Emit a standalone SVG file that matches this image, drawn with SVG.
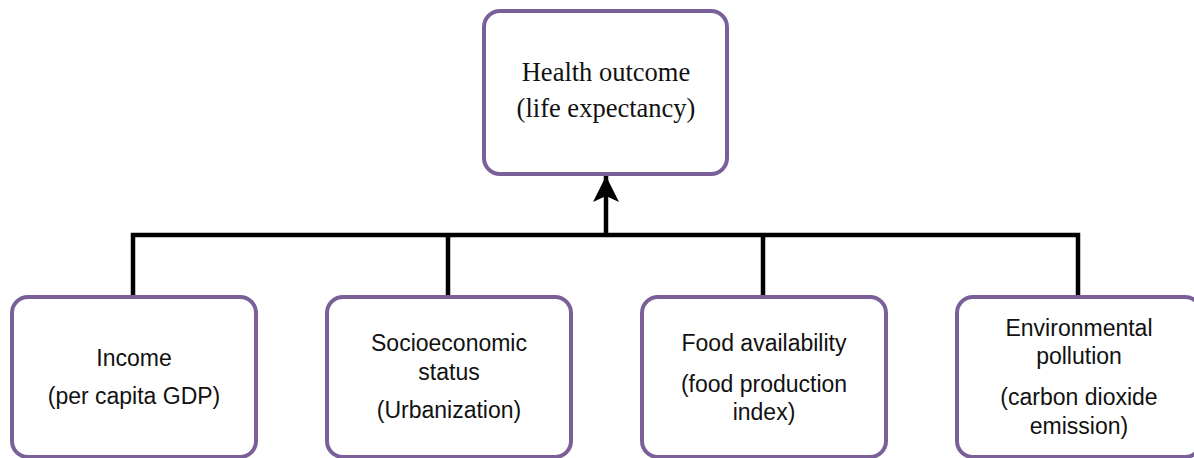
<svg xmlns="http://www.w3.org/2000/svg" width="1194" height="458" viewBox="0 0 1194 458">
<style>
.box{fill:#fff;stroke:#7a5f99;stroke-width:4}
.ser{font-family:"Liberation Serif","Times New Roman",serif;font-size:26.5px;fill:#111;text-anchor:middle}
.san{font-family:"Liberation Sans",Arial,sans-serif;font-size:23px;fill:#111;text-anchor:middle}
.ln{stroke:#000;stroke-width:4.5;fill:none}
</style>
<defs>
<marker id="ah" markerUnits="userSpaceOnUse" markerWidth="30" markerHeight="30" viewBox="0 0 30 30" refX="26" refY="15" orient="auto">
<path d="M0,2 L26,15 L0,28 L6,15 Z" fill="#000"/>
</marker>
</defs>
<rect width="1194" height="458" fill="#fff"/>
<g id="connectors">
<path class="ln" d="M133,296 V235 H1078 V296 M448,235 V296 M763,235 V296"/>
<path class="ln" d="M606,236 V176" marker-end="url(#ah)"/>
</g>
<g id="health">
<rect class="box" x="484" y="11" width="243" height="163" rx="16"/>
<text class="ser" x="606" y="81">Health outcome</text>
<text class="ser" x="606" y="117">(life expectancy)</text>
</g>
<g id="income">
<rect class="box" x="12" y="297" width="244" height="160" rx="16"/>
<text class="san" x="134" y="366">Income</text>
<text class="san" x="134" y="404">(per capita GDP)</text>
</g>
<g id="socio">
<rect class="box" x="327" y="297" width="244" height="160" rx="16"/>
<text class="san" x="449" y="351">Socioeconomic</text>
<text class="san" x="449" y="380">status</text>
<text class="san" x="449" y="418">(Urbanization)</text>
</g>
<g id="food">
<rect class="box" x="642" y="297" width="244" height="160" rx="16"/>
<text class="san" x="764" y="351">Food availability</text>
<text class="san" x="764" y="392">(food production</text>
<text class="san" x="764" y="420">index)</text>
</g>
<g id="env">
<rect class="box" x="957" y="297" width="244" height="160" rx="16"/>
<text class="san" x="1079" y="336">Environmental</text>
<text class="san" x="1079" y="364">pollution</text>
<text class="san" x="1079" y="405">(carbon dioxide</text>
<text class="san" x="1079" y="434">emission)</text>
</g>
</svg>
